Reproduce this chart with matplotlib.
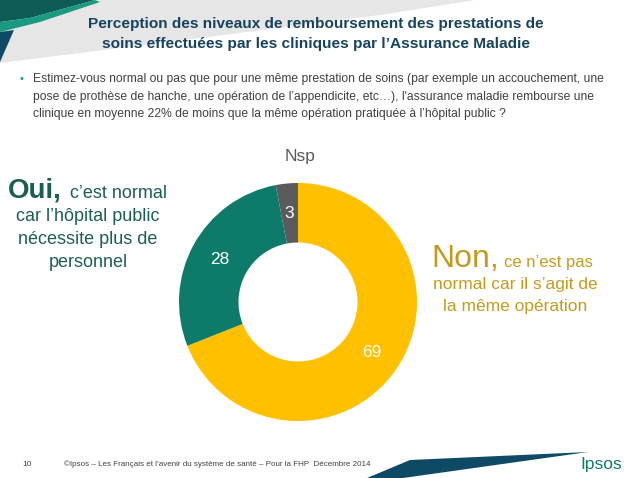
import matplotlib
matplotlib.use("Agg")
import matplotlib.pyplot as plt
from matplotlib.patches import Polygon

plt.rcParams['font.family'] = ['Liberation Sans', 'DejaVu Sans']

# données
categories = ['Non', 'Oui', 'Nsp']
values = [69, 28, 3]
colors = ['#FFC000', '#0E7A69', '#5B5B5B']

title = ("Perception des niveaux de remboursement des prestations de\n"
         "soins effectuées par les cliniques par l\u2019Assurance Maladie")
question = ["Estimez-vous normal ou pas que pour une même prestation de soins (par exemple un accouchement, une",
            "pose de prothèse de hanche, une opération de l\u2019appendicite, etc\u2026), l'assurance maladie rembourse une",
            "clinique en moyenne 22% de moins que la même opération pratiquée à l\u2019hôpital public ?"]
footer = "©Ipsos \u2013 Les Français et l\u2019avenir du système de santé \u2013 Pour la FHP  Décembre 2014"

W, H = 638, 478
fig = plt.figure(figsize=(W / 100, H / 100), dpi=100)

# fond en coordonnées pixels
bg = fig.add_axes([0, 0, 1, 1])
bg.set_xlim(0, W)
bg.set_ylim(H, 0)
bg.axis('off')

# bandeau gris en haut
bg.add_patch(Polygon([(0, 0), (475, 0), (380, 15), (200, 38), (0, 63)],
                     closed=True, color='#E6E6E6', lw=0))
# triangles verts en haut à gauche
bg.add_patch(Polygon([(0, 0), (95, 0), (30, 18), (0, 22)], color='#0D5C55', lw=0))
bg.add_patch(Polygon([(0, 22), (30, 18), (95, 0), (100, 2), (40, 22), (0, 32)],
                     color='#1A9A80', lw=0))
bg.add_patch(Polygon([(0, 32), (14, 30), (0, 62)], color='#0E4A66', lw=0))

# bandeau bas
bg.add_patch(Polygon([(367, 478), (410, 460), (588, 452), (403, 478)],
                     color='#0E4A66', lw=0))

bg.text(316, 34, title, ha='center', va='center', fontsize=11.1,
        fontweight='bold', color='#17435E', linespacing=1.5)

bg.text(20, 79, '\u2022', ha='left', va='center', fontsize=8, color='#1A9A80')
for i, line in enumerate(question):
    bg.text(33, 79 + i * 17.5, line, ha='left', va='center', fontsize=8.75,
            color='#404040')

# textes gauche
oui_col = '#1C5F52'
bg.text(8, 198, 'Oui,', ha='left', va='baseline', fontsize=20,
        fontweight='bold', color=oui_col)
bg.text(70, 198, 'c\u2019est normal', ha='left', va='baseline', fontsize=13,
        color=oui_col)
for i, line in enumerate(['car l\u2019hôpital public', 'nécessite plus de', 'personnel']):
    bg.text(88, 221 + i * 23, line, ha='center', va='baseline', fontsize=13,
            color=oui_col)

# textes droite
non_col = '#C49A1E'
bg.text(431, 267, 'Non,', ha='left', va='baseline', fontsize=23, color=non_col)
bg.text(504, 267, 'ce n\u2019est pas', ha='left', va='baseline', fontsize=12,
        color=non_col)
for i, line in enumerate(['normal car il s\u2019agit de', 'la même opération']):
    bg.text(515, 289 + i * 22, line, ha='center', va='baseline', fontsize=12.5,
            color=non_col)

bg.text(300, 157, 'Nsp', ha='center', va='center', fontsize=12.5, color='#595959')

# pied de page
bg.text(22, 464, '10', ha='left', va='center', fontsize=6, color='#404040')
bg.text(64, 464, footer, ha='left', va='center', fontsize=5.75, color='#404040')
bg.text(601, 464, 'Ipsos', ha='center', va='center', fontsize=12.5,
        color='#0E7A69')

# anneau
cx, cy, r = 298, 302, 119
ax = fig.add_axes([(cx - r) / W, (H - cy - r) / H, 2 * r / W, 2 * r / H])
wedges, texts = ax.pie(values, colors=colors, startangle=90, counterclock=False,
                       labels=[str(v) for v in values], labeldistance=0.75,
                       wedgeprops=dict(width=0.5, linewidth=0),
                       textprops=dict(color='white', fontsize=12.5, ha='center', va='center'))
ax.set_xlim(-1, 1)
ax.set_ylim(-1, 1)
ax.set_aspect('equal')

fig.savefig('out.png', dpi=100)
